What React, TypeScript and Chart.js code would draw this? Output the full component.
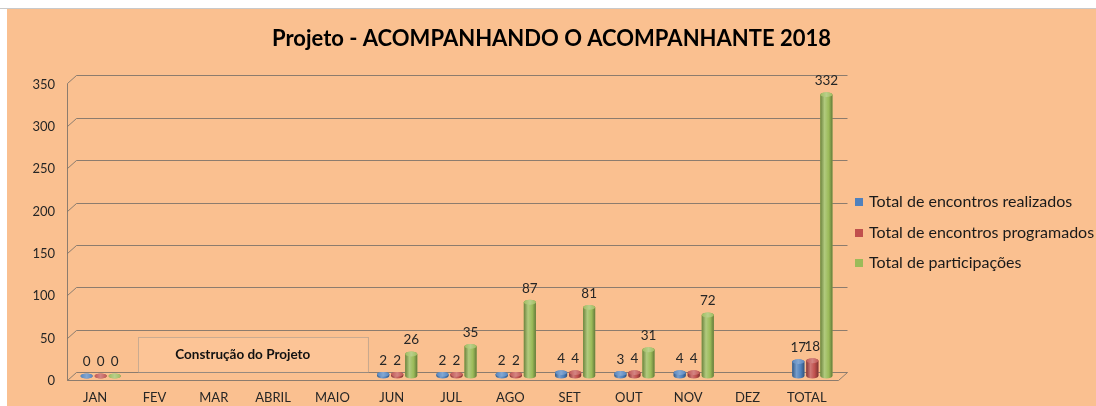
import React, { useEffect, useRef } from "react";
import { Chart, registerables } from "chart.js";

Chart.register(...registerables);

// ---- data ----
const titleText = "Projeto - ACOMPANHANDO O ACOMPANHANTE 2018";
const categories = ["JAN", "FEV", "MAR", "ABRIL", "MAIO", "JUN", "JUL", "AGO", "SET", "OUT", "NOV", "DEZ", "TOTAL"];
const realizados: (number | null)[] = [0, null, null, null, null, 2, 2, 2, 4, 3, 4, null, 17];
const programados: (number | null)[] = [0, null, null, null, null, 2, 2, 2, 4, 4, 4, null, 18];
const participacoes: (number | null)[] = [0, null, null, null, null, 26, 35, 87, 81, 31, 72, null, 332];
const seriesLabels = ["Total de encontros realizados", "Total de encontros programados", "Total de participações"];
const seriesColors = ["#4F81BD", "#C0504D", "#9BBB59"];
const yTicks = [0, 50, 100, 150, 200, 250, 300, 350];
const annotationText = "Construção do Projeto";
const annotationFrom = "FEV";
const annotationTo = "MAIO";

const FONT = "Lato, 'Open Sans', sans-serif";
const BG = "#FAC090";
const GRID = "rgba(120,112,105,0.85)";

function shade(hex: string, f: number): string {
  const n = parseInt(hex.slice(1), 16);
  let r = (n >> 16) & 255, g = (n >> 8) & 255, b = n & 255;
  if (f >= 0) {
    r = r + (255 - r) * f; g = g + (255 - g) * f; b = b + (255 - b) * f;
  } else {
    r = r * (1 + f); g = g * (1 + f); b = b * (1 + f);
  }
  return `rgb(${Math.round(r)},${Math.round(g)},${Math.round(b)})`;
}

// 3D offsets relative to the bar plane (chart area)
const FRONT = { dx: -4, dy: 4 };
const BACK = { dx: 5, dy: -4 };

const wallsPlugin = {
  id: "walls3d",
  beforeDatasetsDraw(chart: any) {
    const { ctx, chartArea: ca } = chart;
    const ya = chart.scales.y;
    const xa = chart.scales.x;
    ctx.save();
    ctx.strokeStyle = GRID;
    ctx.lineWidth = 1;
    const r = (v: number) => Math.round(v) + 0.5;
    yTicks.forEach((v) => {
      const py = ya.getPixelForValue(v);
      ctx.beginPath();
      ctx.moveTo(r(ca.left + FRONT.dx), r(py + FRONT.dy));
      ctx.lineTo(r(ca.left + BACK.dx), r(py + BACK.dy));
      ctx.lineTo(r(ca.right + BACK.dx), r(py + BACK.dy));
      ctx.stroke();
    });
    const y0 = ya.getPixelForValue(yTicks[0]);
    const yTop = ya.getPixelForValue(yTicks[yTicks.length - 1]);
    ctx.beginPath();
    ctx.moveTo(r(ca.left + FRONT.dx), r(yTop + FRONT.dy));
    ctx.lineTo(r(ca.left + FRONT.dx), r(y0 + FRONT.dy));
    ctx.lineTo(r(ca.right + FRONT.dx), r(y0 + FRONT.dy));
    ctx.lineTo(r(ca.right + BACK.dx), r(y0 + BACK.dy));
    ctx.stroke();

    // annotation text box
    const i0 = categories.indexOf(annotationFrom);
    const i1 = categories.indexOf(annotationTo);
    const cw = xa.getPixelForValue(1) - xa.getPixelForValue(0);
    const bl = xa.getPixelForValue(i0) - cw * 0.37;
    const br = xa.getPixelForValue(i1) + cw * 0.5;
    const bt = ya.getPixelForValue(46);
    const bb = ya.getPixelForValue(5);
    ctx.fillStyle = "rgba(252,196,150,1)";
    ctx.fillRect(bl, bt, br - bl, bb - bt);
    ctx.strokeStyle = "rgba(160,150,140,0.55)";
    ctx.strokeRect(r(bl), r(bt), Math.round(br - bl), Math.round(bb - bt));
    ctx.fillStyle = "#111";
    ctx.font = `bold 13.5px ${FONT}`;
    ctx.textAlign = "center";
    ctx.textBaseline = "middle";
    ctx.fillText(annotationText, (bl + br) / 2 - 10, (bt + bb) / 2);
    ctx.restore();
  },
};

const cylinderPlugin = {
  id: "cylinders",
  afterDatasetsDraw(chart: any) {
    const ctx = chart.ctx;
    chart.data.datasets.forEach((ds: any, di: number) => {
      const meta = chart.getDatasetMeta(di);
      const col = seriesColors[di];
      meta.data.forEach((bar: any, i: number) => {
        const v = ds.data[i];
        if (v == null) return;
        const { x, y, base, width } = bar.getProps(["x", "y", "base", "width"], true);
        const w = width;
        const l = x - w / 2;
        const rr = x + w / 2;
        const ry = w * 0.2;
        ctx.save();
        const g = ctx.createLinearGradient(l, 0, rr, 0);
        g.addColorStop(0, shade(col, -0.3));
        g.addColorStop(0.35, shade(col, 0.22));
        g.addColorStop(0.7, col);
        g.addColorStop(1, shade(col, -0.35));
        ctx.fillStyle = g;
        ctx.beginPath();
        ctx.moveTo(l, y);
        ctx.lineTo(l, base);
        ctx.ellipse(x, base, w / 2, ry, 0, Math.PI, 0, true);
        ctx.lineTo(rr, y);
        ctx.ellipse(x, y, w / 2, ry, 0, 0, Math.PI, true);
        ctx.closePath();
        ctx.fill();
        const g2 = ctx.createLinearGradient(l, 0, rr, 0);
        g2.addColorStop(0, shade(col, 0.05));
        g2.addColorStop(0.5, shade(col, 0.3));
        g2.addColorStop(1, shade(col, 0.05));
        ctx.fillStyle = g2;
        ctx.beginPath();
        ctx.ellipse(x, y, w / 2, ry, 0, 0, Math.PI * 2);
        ctx.fill();
        ctx.restore();

        ctx.save();
        ctx.fillStyle = "#262626";
        ctx.font = `13.5px ${FONT}`;
        ctx.textAlign = "center";
        ctx.textBaseline = "middle";
        ctx.fillText(String(v), x, y - 14);
        ctx.restore();
      });
    });
  },
};

const legendPlugin = {
  id: "sideLegend",
  afterDraw(chart: any) {
    const { ctx, chartArea: ca } = chart;
    const yc = (ca.top + ca.bottom) / 2 + 5;
    ctx.save();
    ctx.font = `16px ${FONT}`;
    ctx.textBaseline = "middle";
    ctx.textAlign = "left";
    chart.data.datasets.forEach((ds: any, i: number) => {
      const yy = yc + (i - 1) * 30.5;
      const bx = ca.right + 13;
      ctx.fillStyle = ds.backgroundColor;
      ctx.fillRect(bx, Math.round(yy - 4), 8, 8);
      ctx.fillStyle = "#1a1a1a";
      ctx.fillText(ds.label, bx + 14, yy);
    });
    ctx.restore();
  },
};

export default function App() {
  const ref = useRef<HTMLCanvasElement>(null);
  useEffect(() => {
    document.body.style.margin = "0";
    const canvas = ref.current!;
    const chart = new Chart(canvas, {
      type: "bar",
      data: {
        labels: categories,
        datasets: [
          { label: seriesLabels[0], data: realizados, backgroundColor: seriesColors[0] },
          { label: seriesLabels[1], data: programados, backgroundColor: seriesColors[1] },
          { label: seriesLabels[2], data: participacoes, backgroundColor: seriesColors[2] },
        ],
      },
      options: {
        responsive: false,
        animation: false,
        layout: { padding: 0 },
        datasets: { bar: { categoryPercentage: 0.71, barPercentage: 0.86 } },
        plugins: {
          legend: { display: false },
          tooltip: { enabled: false },
          title: {
            display: true,
            text: titleText,
            color: "#000",
            font: { family: FONT, size: 22, weight: "bold" },
            padding: { top: 17, bottom: 27 },
          },
        },
        scales: {
          x: {
            grid: { display: false, drawTicks: false },
            border: { display: false },
            ticks: {
              color: "#262626",
              font: { family: FONT, size: 13 },
              padding: 14,
              labelOffset: -5.5,
              autoSkip: false,
              maxRotation: 0,
            },
            afterFit: (s: any) => { s.height = 30; },
          },
          y: {
            min: 0,
            max: 350,
            grid: { display: false, drawTicks: false },
            border: { display: false },
            ticks: {
              stepSize: 50,
              color: "#262626",
              font: { family: FONT, size: 13 },
              padding: 16,
              labelOffset: 5,
            },
            afterFit: (s: any) => { s.width = 64; },
          },
          // reserves room on the right for the legend (no visible marks)
          legendSpace: {
            type: "linear",
            position: "right",
            display: true,
            grid: { display: false, drawTicks: false },
            border: { display: false },
            ticks: { display: false },
            afterFit: (s: any) => { s.width = 254; },
          },
        },
      },
      plugins: [wallsPlugin, cylinderPlugin, legendPlugin],
    } as any);
    return () => chart.destroy();
  }, []);

  return (
    <div style={{ position: "relative", width: 1096, height: 406, background: "#fff", overflow: "hidden" }}>
      <div style={{ position: "absolute", left: 0, top: 8, width: 1096, height: 1, background: "#c9c9c9" }} />
      <div style={{ position: "absolute", left: 7, top: 9, width: 1089, height: 397, background: BG }}>
        <canvas ref={ref} width={1089} height={397} style={{ display: "block" }} />
      </div>
    </div>
  );
}
